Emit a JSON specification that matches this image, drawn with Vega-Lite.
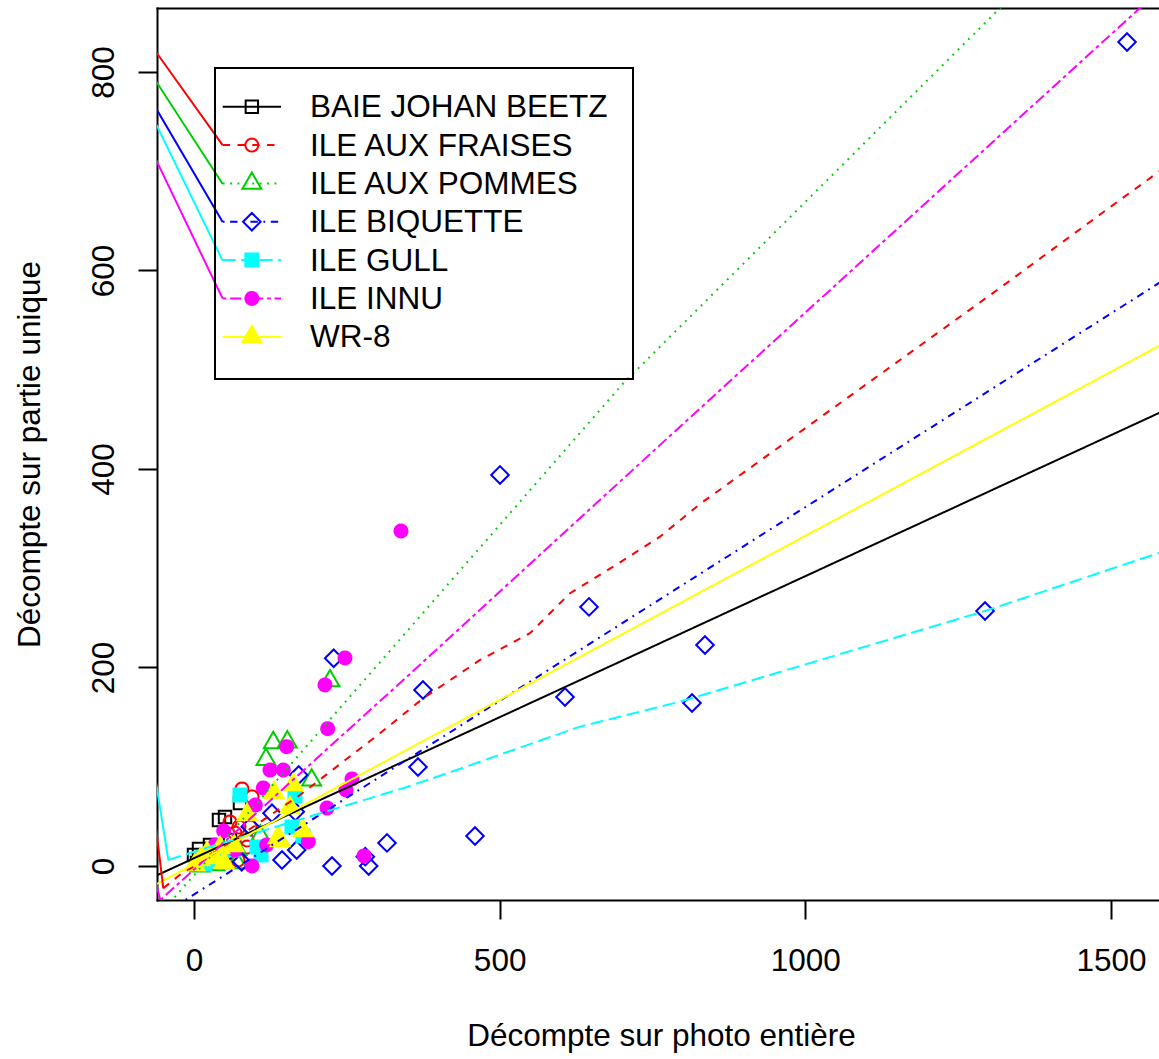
{
"$schema":"https://vega.github.io/schema/vega-lite/v6.json",
"width":1002,"height":892,
"autosize":{"type":"none"},
"padding":{"left":157,"top":8,"right":0,"bottom":159},
"background":"white",
"config":{
 "view":{"stroke":null},
 "axis":{"domainColor":"#000000","domainWidth":2,"domainCap":"square","tickColor":"#000000","tickWidth":2,"tickSize":19,"labelFont":"Liberation Sans","labelFontSize":31.5,"labelColor":"#000000","titleFont":"Liberation Sans","titleFontSize":31.5,"titleFontWeight":"normal","titleColor":"#000000","grid":false,"labelOverlap":false,"labelFlush":false},
 "legend":{"orient":"none","legendX":58,"legendY":60,"padding":24.45,"rowPadding":5.35,"symbolOffset":-3.35,"labelOffset":42.4,"strokeColor":"#000000","strokeWidth":2,"labelFont":"Liberation Sans","labelFontSize":31.5,"labelColor":"#000000","labelLimit":2000,"symbolSize":196,"symbolStrokeWidth":2}
},
"datasets":{
"pts":[
{"site":"BAIE JOHAN BEETZ","x":75.2,"y":63.5},{"site":"BAIE JOHAN BEETZ","x":40.9,"y":46.3},{"site":"BAIE JOHAN BEETZ","x":50.7,"y":49.4},{"site":"BAIE JOHAN BEETZ","x":8.2,"y":17.1},{"site":"BAIE JOHAN BEETZ","x":0,"y":11.1},{"site":"BAIE JOHAN BEETZ","x":26.2,"y":21.2},{"site":"BAIE JOHAN BEETZ","x":58.9,"y":26.2},{"site":"BAIE JOHAN BEETZ","x":11.5,"y":6},{"site":"BAIE JOHAN BEETZ","x":4.9,"y":3},
{"site":"ILE AUX FRAISES","x":78.5,"y":77.6},{"site":"ILE AUX FRAISES","x":94.9,"y":69.7},{"site":"ILE AUX FRAISES","x":58.9,"y":44.3},{"site":"ILE AUX FRAISES","x":73.6,"y":39.3},{"site":"ILE AUX FRAISES","x":91.6,"y":39.3},{"site":"ILE AUX FRAISES","x":67.1,"y":33.2},{"site":"ILE AUX FRAISES","x":86.7,"y":19.1},{"site":"ILE AUX FRAISES","x":72,"y":6},{"site":"ILE AUX FRAISES","x":32.7,"y":3},{"site":"ILE AUX FRAISES","x":45.8,"y":11.1},{"site":"ILE AUX FRAISES","x":86.7,"y":26.2},
{"site":"ILE AUX POMMES","x":222.5,"y":186.6},{"site":"ILE AUX POMMES","x":129.7,"y":124.2},{"site":"ILE AUX POMMES","x":152.6,"y":124.9},{"site":"ILE AUX POMMES","x":117.8,"y":107.3},{"site":"ILE AUX POMMES","x":192.5,"y":86.6},{"site":"ILE AUX POMMES","x":108.5,"y":30.1},{"site":"ILE AUX POMMES","x":70.3,"y":16.6},{"site":"ILE AUX POMMES","x":70.3,"y":3.2},{"site":"ILE AUX POMMES","x":34.4,"y":1.2},{"site":"ILE AUX POMMES","x":9.8,"y":0},
{"site":"ILE BIQUETTE","x":1526.3,"y":830.2},{"site":"ILE BIQUETTE","x":500.6,"y":394},{"site":"ILE BIQUETTE","x":646.2,"y":261},{"site":"ILE BIQUETTE","x":835.9,"y":222.7},{"site":"ILE BIQUETTE","x":606.9,"y":170.3},{"site":"ILE BIQUETTE","x":814.7,"y":164.2},{"site":"ILE BIQUETTE","x":1294,"y":256.9},{"site":"ILE BIQUETTE","x":374.6,"y":177.3},{"site":"ILE BIQUETTE","x":366.4,"y":99.7},{"site":"ILE BIQUETTE","x":459.7,"y":30.2},{"site":"ILE BIQUETTE","x":315.7,"y":23.2},{"site":"ILE BIQUETTE","x":280.2,"y":9.4},{"site":"ILE BIQUETTE","x":225.7,"y":0},{"site":"ILE BIQUETTE","x":228.5,"y":209.3},{"site":"ILE BIQUETTE","x":171.3,"y":91.7},{"site":"ILE BIQUETTE","x":144,"y":6},{"site":"ILE BIQUETTE","x":285.8,"y":0},{"site":"ILE BIQUETTE","x":127.6,"y":53.1},{"site":"ILE BIQUETTE","x":165.7,"y":54.7},{"site":"ILE BIQUETTE","x":92.1,"y":39.6},{"site":"ILE BIQUETTE","x":78,"y":4.3},{"site":"ILE BIQUETTE","x":50.7,"y":11},{"site":"ILE BIQUETTE","x":168,"y":16.1},
{"site":"ILE GULL","x":75.2,"y":71.5},{"site":"ILE GULL","x":165.2,"y":70.5},{"site":"ILE GULL","x":160.3,"y":39.3},{"site":"ILE GULL","x":178.3,"y":30.2},{"site":"ILE GULL","x":109.6,"y":11.1},{"site":"ILE GULL","x":103.1,"y":19.1},{"site":"ILE GULL","x":63.8,"y":16.1},{"site":"ILE GULL","x":34.4,"y":6},{"site":"ILE GULL","x":18,"y":2},
{"site":"ILE INNU","x":338.6,"y":337.5},{"site":"ILE INNU","x":247,"y":209.6},{"site":"ILE INNU","x":214.3,"y":182.4},{"site":"ILE INNU","x":218.7,"y":138.3},{"site":"ILE INNU","x":258.5,"y":87.7},{"site":"ILE INNU","x":248.6,"y":76.6},{"site":"ILE INNU","x":217.6,"y":58.4},{"site":"ILE INNU","x":278.1,"y":10.1},{"site":"ILE INNU","x":151.6,"y":120.2},{"site":"ILE INNU","x":124.3,"y":96.7},{"site":"ILE INNU","x":146.1,"y":96.7},{"site":"ILE INNU","x":113.4,"y":78.6},{"site":"ILE INNU","x":187,"y":24.5},{"site":"ILE INNU","x":118.9,"y":21.2},{"site":"ILE INNU","x":100.3,"y":61.4},{"site":"ILE INNU","x":48.6,"y":35.3},{"site":"ILE INNU","x":94.9,"y":0},{"site":"ILE INNU","x":34.4,"y":21.2},{"site":"ILE INNU","x":67.1,"y":16.1},
{"site":"WR-8","x":162,"y":81.8},{"site":"WR-8","x":130.9,"y":73.8},{"site":"WR-8","x":157,"y":58.7},{"site":"WR-8","x":178.3,"y":35.5},{"site":"WR-8","x":140.7,"y":25.4},{"site":"WR-8","x":86.7,"y":51.6},{"site":"WR-8","x":137.4,"y":28.4},{"site":"WR-8","x":65.4,"y":20.4},{"site":"WR-8","x":42.5,"y":18.4},{"site":"WR-8","x":21.3,"y":13.3},{"site":"WR-8","x":9.8,"y":6.3},{"site":"WR-8","x":49.1,"y":3.2},{"site":"WR-8","x":32.7,"y":8.3},{"site":"WR-8","x":1.6,"y":1.2}
],
"curves":[
{"site":"BAIE JOHAN BEETZ","x":-70,"y":-12.1},{"site":"BAIE JOHAN BEETZ","x":1600,"y":462.5},
{"site":"ILE AUX FRAISES","x":-50.2,"y":-22.5},{"site":"ILE AUX FRAISES","x":-20,"y":-7.4},{"site":"ILE AUX FRAISES","x":10,"y":3},{"site":"ILE AUX FRAISES","x":173.4,"y":71.5},{"site":"ILE AUX FRAISES","x":304.3,"y":133.7},{"site":"ILE AUX FRAISES","x":375.1,"y":169},{"site":"ILE AUX FRAISES","x":467.9,"y":207.6},{"site":"ILE AUX FRAISES","x":549.6,"y":234.5},{"site":"ILE AUX FRAISES","x":615.1,"y":274.8},{"site":"ILE AUX FRAISES","x":685.9,"y":301.6},{"site":"ILE AUX FRAISES","x":762.2,"y":331.8},{"site":"ILE AUX FRAISES","x":827.7,"y":364.7},{"site":"ILE AUX FRAISES","x":991.3,"y":437.3},{"site":"ILE AUX FRAISES","x":1154.9,"y":509.8},{"site":"ILE AUX FRAISES","x":1318.5,"y":582.4},{"site":"ILE AUX FRAISES","x":1482.1,"y":656.4},{"site":"ILE AUX FRAISES","x":1578.6,"y":699.7},{"site":"ILE AUX FRAISES","x":1600,"y":709},
{"site":"ILE AUX POMMES","x":-55.6,"y":-48.4},{"site":"ILE AUX POMMES","x":-31.1,"y":-31.2},{"site":"ILE AUX POMMES","x":345.7,"y":234.5},{"site":"ILE AUX POMMES","x":702.3,"y":486.4},{"site":"ILE AUX POMMES","x":1318.5,"y":864.5},{"site":"ILE AUX POMMES","x":1400,"y":914.7},
{"site":"ILE BIQUETTE","x":-70,"y":-56.1},{"site":"ILE BIQUETTE","x":1600,"y":595.7},
{"site":"ILE GULL","x":-42,"y":6},{"site":"ILE GULL","x":-6.5,"y":13.1},{"site":"ILE GULL","x":348.4,"y":79.6},{"site":"ILE GULL","x":429.7,"y":96.7},{"site":"ILE GULL","x":522.3,"y":116.9},{"site":"ILE GULL","x":631.4,"y":140.4},{"site":"ILE GULL","x":795,"y":165.5},{"site":"ILE GULL","x":1294,"y":256.9},{"site":"ILE GULL","x":1578.6,"y":315.4},{"site":"ILE GULL","x":1600,"y":320},
{"site":"ILE INNU","x":-55.1,"y":-34.3},{"site":"ILE INNU","x":348.4,"y":190.7},{"site":"ILE INNU","x":795,"y":442.6},{"site":"ILE INNU","x":1547.5,"y":864.5},{"site":"ILE INNU","x":1600,"y":894},
{"site":"WR-8","x":-70,"y":-21.25},{"site":"WR-8","x":1600,"y":531}
],
"conn":[
{"seg":"r","site":"ILE AUX FRAISES","o":0,"x":-50.2,"y":-22.5},{"seg":"r","site":"ILE AUX FRAISES","o":1,"x":-245.4,"y":977.8},{"seg":"r","site":"ILE AUX FRAISES","o":2,"x":46.9,"y":726.4},
{"seg":"c","site":"ILE GULL","o":0,"x":-42,"y":6},{"seg":"c","site":"ILE GULL","o":1,"x":-314.4,"y":1066.1},{"seg":"c","site":"ILE GULL","o":2,"x":46.9,"y":609.9},
{"seg":"g","site":"ILE AUX POMMES","o":0,"x":-104.7,"y":831.2},{"seg":"g","site":"ILE AUX POMMES","o":1,"x":46.9,"y":687.1},
{"seg":"b","site":"ILE BIQUETTE","o":0,"x":-104.7,"y":808.1},{"seg":"b","site":"ILE BIQUETTE","o":1,"x":46.9,"y":648.9},
{"seg":"m","site":"ILE INNU","o":0,"x":-55.1,"y":-34.3},{"seg":"m","site":"ILE INNU","o":1,"x":-700.2,"y":1531},{"seg":"m","site":"ILE INNU","o":2,"x":46.9,"y":571.6}
]
},
"resolve":{"axis":{"x":"independent","y":"independent"},"scale":{"stroke":"independent","fill":"independent","shape":"independent"},"legend":{"stroke":"independent","fill":"independent","shape":"independent"}},
"layer":[
{
 "data":{"name":"pts"},
 "mark":{"type":"point","size":196,"strokeWidth":2,"opacity":1,"clip":true},
 "encoding":{
  "x":{"field":"x","type":"quantitative","scale":{"domain":[-60.5,1578.6],"nice":false,"zero":false},
       "axis":{"orient":"bottom","values":[0,500,1000,1500],"format":"d","labelBaseline":"alphabetic","labelPadding":51.9,"title":"Décompte sur photo entière","titleX":504,"titleY":145,"titleBaseline":"alphabetic","titleAlign":"center"}},
  "y":{"field":"y","type":"quantitative","scale":{"domain":[-34.3,864.5],"nice":false,"zero":false},
       "axis":{"values":[0,200,400,600,800],"format":"d","labelAngle":-90,"labelAlign":"center","labelBaseline":"alphabetic","labelPadding":25,"title":"Décompte sur partie unique","titleX":-118,"titleY":446,"titleAngle":-90,"titleBaseline":"alphabetic","titleAlign":"center"}},
  "stroke":{"field":"site","type":"nominal","scale":{"domain":["BAIE JOHAN BEETZ","ILE AUX FRAISES","ILE AUX POMMES","ILE BIQUETTE","ILE GULL","ILE INNU","WR-8"],"range":["#000000","#FF0000","#00CD00","#0000FF","#00FFFF","#FF00FF","#FFFF00"]},"legend":null},
  "fill":{"field":"site","type":"nominal","scale":{"domain":["BAIE JOHAN BEETZ","ILE AUX FRAISES","ILE AUX POMMES","ILE BIQUETTE","ILE GULL","ILE INNU","WR-8"],"range":["transparent","transparent","transparent","transparent","#00FFFF","#FF00FF","#FFFF00"]},"legend":null},
  "shape":{"field":"site","type":"nominal",
    "scale":{"domain":["BAIE JOHAN BEETZ","ILE AUX FRAISES","ILE AUX POMMES","ILE BIQUETTE","ILE GULL","ILE INNU","WR-8"],
      "range":["M-0.886,-0.886L0.886,-0.886L0.886,0.886L-0.886,0.886Z",
               "M0.93,0L0.884,0.287L0.752,0.547L0.547,0.752L0.287,0.884L0,0.93L-0.287,0.884L-0.547,0.752L-0.752,0.547L-0.884,0.287L-0.93,0L-0.884,-0.287L-0.752,-0.547L-0.547,-0.752L-0.287,-0.884L0,-0.93L0.287,-0.884L0.547,-0.752L0.752,-0.547L0.884,-0.287Z",
               "M0,-1.555L1.347,0.778L-1.347,0.778Z",
               "M-1.2533,0L0,-1.2533L1.2533,0L0,1.2533Z",
               "M-0.93,-0.93L0.93,-0.93L0.93,0.93L-0.93,0.93Z",
               "M0.93,0L0.884,0.287L0.752,0.547L0.547,0.752L0.287,0.884L0,0.93L-0.287,0.884L-0.547,0.752L-0.752,0.547L-0.884,0.287L-0.93,0L-0.884,-0.287L-0.752,-0.547L-0.547,-0.752L-0.287,-0.884L0,-0.93L0.287,-0.884L0.547,-0.752L0.752,-0.547L0.884,-0.287Z",
               "M0,-1.555L1.347,0.778L-1.347,0.778Z"]},"legend":null}
 }
},
{
 "data":{"name":"curves"},
 "mark":{"type":"line","strokeWidth":2,"clip":true},
 "encoding":{
  "x":{"field":"x","type":"quantitative","axis":null},
  "y":{"field":"y","type":"quantitative","axis":null},
  "stroke":{"field":"site","type":"nominal","scale":{"domain":["BAIE JOHAN BEETZ","ILE AUX FRAISES","ILE AUX POMMES","ILE BIQUETTE","ILE GULL","ILE INNU","WR-8"],"range":["#000000","#FF0000","#00CD00","#0000FF","#00FFFF","#FF00FF","#FFFF00"]},"legend":null},
  "strokeDash":{"field":"site","type":"nominal","scale":{"domain":["BAIE JOHAN BEETZ","ILE AUX FRAISES","ILE AUX POMMES","ILE BIQUETTE","ILE GULL","ILE INNU","WR-8"],"range":[[1,0],[7.4,7.4],[1.85,5.55],[1.85,5.55,7.4,5.55],[12.95,5.55],[3.7,3.7,11.1,3.7],[1,0]]},"legend":null}
 }
},
{
 "data":{"name":"conn"},
 "mark":{"type":"line","strokeWidth":2,"clip":true},
 "encoding":{
  "x":{"field":"x","type":"quantitative","axis":{"orient":"top","domain":true,"ticks":false,"labels":false,"title":null}},
  "y":{"field":"y","type":"quantitative","axis":null},
  "stroke":{"field":"site","type":"nominal","scale":{"domain":["BAIE JOHAN BEETZ","ILE AUX FRAISES","ILE AUX POMMES","ILE BIQUETTE","ILE GULL","ILE INNU","WR-8"],"range":["#000000","#FF0000","#00CD00","#0000FF","#00FFFF","#FF00FF","#FFFF00"]},"legend":null},
  "detail":{"field":"seg"},
  "order":{"field":"o","type":"quantitative"}
 }
},
{
 "data":{"name":"pts"},
 "transform":[{"filter":"datum.x < -9999"}],
 "mark":{"type":"point","size":196,"strokeWidth":2,"opacity":1},
 "encoding":{
  "x":{"field":"x","type":"quantitative","axis":null},
  "y":{"field":"y","type":"quantitative","axis":null},
  "stroke":{"field":"site","type":"nominal","scale":{"domain":["BAIE JOHAN BEETZ","ILE AUX FRAISES","ILE AUX POMMES","ILE BIQUETTE","ILE GULL","ILE INNU","WR-8"],"range":["#000000","#FF0000","#00CD00","#0000FF","#00FFFF","#FF00FF","#FFFF00"]},
     "legend":{"title":null,"orient":"none","legendX":58,"legendY":60}},
  "fill":{"field":"site","type":"nominal","scale":{"domain":["BAIE JOHAN BEETZ","ILE AUX FRAISES","ILE AUX POMMES","ILE BIQUETTE","ILE GULL","ILE INNU","WR-8"],"range":["transparent","transparent","transparent","transparent","#00FFFF","#FF00FF","#FFFF00"]},
     "legend":{"title":null,"orient":"none","legendX":58,"legendY":60}},
  "shape":{"field":"site","type":"nominal",
    "scale":{"domain":["BAIE JOHAN BEETZ","ILE AUX FRAISES","ILE AUX POMMES","ILE BIQUETTE","ILE GULL","ILE INNU","WR-8"],
      "range":[
        "M-4.164,-0.214L4.164,-0.214M-0.886,-1.1L0.886,-1.1L0.886,0.672L-0.886,0.672Z",
        "M-4.164,-0.214L-3.107,-0.214M-2.05,-0.214L-0.993,-0.214M0.064,-0.214L1.121,-0.214M2.178,-0.214L3.235,-0.214M0.93,-0.214L0.884,0.073L0.752,0.333L0.547,0.538L0.287,0.67L0,0.716L-0.287,0.67L-0.547,0.538L-0.752,0.333L-0.884,0.073L-0.93,-0.214L-0.884,-0.501L-0.752,-0.761L-0.547,-0.966L-0.287,-1.098L0,-1.144L0.287,-1.098L0.547,-0.966L0.752,-0.761L0.884,-0.501Z",
        "M-4.164,-0.214L-3.9,-0.214M-3.107,-0.214L-2.843,-0.214M-2.05,-0.214L-1.786,-0.214M-0.993,-0.214L-0.729,-0.214M0.064,-0.214L0.328,-0.214M1.121,-0.214L1.385,-0.214M2.178,-0.214L2.442,-0.214M3.235,-0.214L3.499,-0.214M0,-1.769L1.347,0.564L-1.347,0.564Z",
        "M-4.164,-0.214L-3.9,-0.214M-3.107,-0.214L-2.05,-0.214M-1.257,-0.214L-0.993,-0.214M-0.2,-0.214L0.857,-0.214M1.65,-0.214L1.914,-0.214M2.707,-0.214L3.764,-0.214M-1.2533,-0.214L0,-1.4673L1.2533,-0.214L0,1.0393Z",
        "M-4.164,-0.214L-2.314,-0.214M-1.521,-0.214L0.329,-0.214M1.122,-0.214L2.972,-0.214M3.765,-0.214L4.164,-0.214M-0.93,-1.144L0.93,-1.144L0.93,0.716L-0.93,0.716Z",
        "M-4.164,-0.214L-3.635,-0.214M-3.106,-0.214L-1.52,-0.214M-0.991,-0.214L-0.462,-0.214M0.067,-0.214L1.653,-0.214M2.182,-0.214L2.711,-0.214M3.24,-0.214L4.164,-0.214M0.93,-0.214L0.884,0.073L0.752,0.333L0.547,0.538L0.287,0.67L0,0.716L-0.287,0.67L-0.547,0.538L-0.752,0.333L-0.884,0.073L-0.93,-0.214L-0.884,-0.501L-0.752,-0.761L-0.547,-0.966L-0.287,-1.098L0,-1.144L0.287,-1.098L0.547,-0.966L0.752,-0.761L0.884,-0.501Z",
        "M-4.164,-0.214L4.164,-0.214M0,-1.769L1.347,0.564L-1.347,0.564Z"]},
     "legend":{"title":null,"orient":"none","legendX":58,"legendY":60}}
 }
}
]
}
